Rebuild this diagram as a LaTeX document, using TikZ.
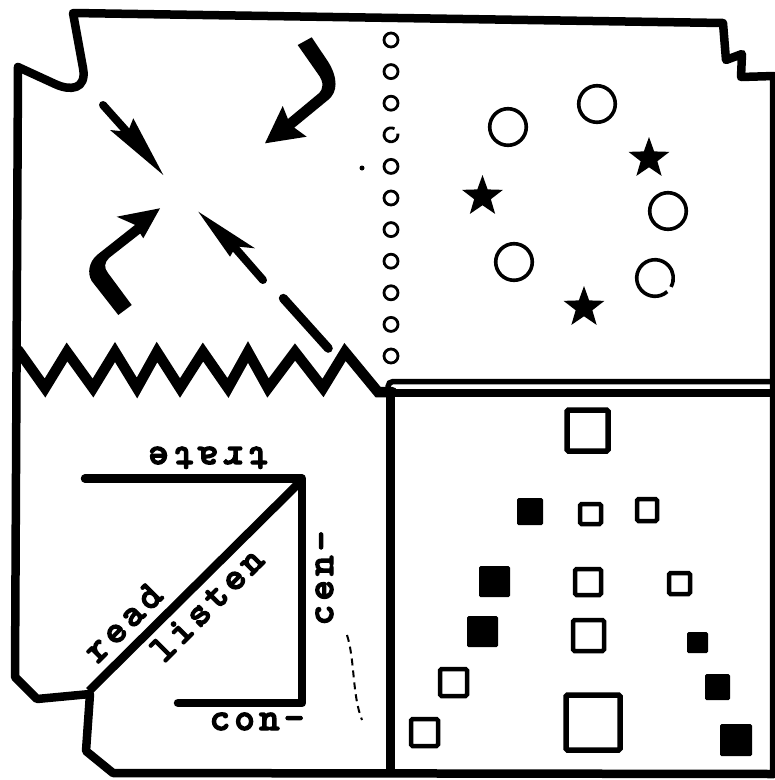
\documentclass[tikz,border=0pt]{standalone}
\usepackage{fontspec}
\usetikzlibrary{shapes.geometric}
\newfontfamily\twfont{lmmonolt10-bold.otf}[FakeBold=3.2,LetterSpace=11]
\begin{document}
\begin{tikzpicture}[x=1pt,y=-1pt,
  bord/.style={line width=8.5, line join=round, line cap=round},
  zig/.style={line width=10.5, line join=miter, line cap=round},
  ring/.style={line width=3.6},
  dotc/.style={line width=2.8},
  osq/.style={line width=4.5, rounded corners=1.5},
  bigsq/.style={line width=5.5, rounded corners=1.5},
  fsq/.style={fill=black, rounded corners=1.5},
  word/.style={font=\twfont\fontsize{39}{39}\selectfont, inner sep=0pt},
  starsh/.style={star, star points=5, star point ratio=2.45, fill=black, draw=none, inner sep=0pt, minimum size=43}]
\useasboundingbox (0,0) rectangle (775,780);
\fill[white] (0,0) rectangle (775,780);

% outer boundary
\draw[bord] (18,67) -- (55,84) .. controls (70,91) and (87,90) .. (83,68) -- (73,13)
  -- (723,23) -- (726,60) -- (742,54) -- (741,77) -- (774,76) -- (774,774)
  -- (113,773) -- (86,751) -- (90,694) -- (37,699) -- (15,677) -- cycle;

% zigzag
\draw[zig] (18,350) -- (45,388) -- (67,352) -- (93,388) -- (115,352) -- (137,388)
  -- (157,352) -- (180,388) -- (203,352) -- (228,388) -- (248,352) -- (268,388)
  -- (295,352) -- (323,388) -- (345,352) -- (378,392) -- (392,392);

% lower right frame
\draw[line width=9] (390.5,388) -- (390.5,776);
\draw[line width=8] (386,392.5) -- (776,392.5);
\draw[line width=5.5, rounded corners=5] (776,381.5) -- (388,381.5) -- (388,395);

% column of small circles
\foreach \i in {0,1,2,4,5,6,7,8,9,10}
  \draw[dotc] (391,40+31.6*\i) circle (7);
\draw[dotc] (391,134.8) ++(-10:7) arc[start angle=-10, end angle=300, radius=7];
\fill (362,168) circle (2.5);

% big circles and stars
\draw[ring] (508,127) circle (18.3);
\draw[ring] (597,104) circle (18.3);
\draw[ring] (668,211) circle (18.3);
\draw[ring] (514,262) circle (18.3);
\draw[ring] (655,278) ++(48:18.3) arc[start angle=48, end angle=389, radius=18.3];
\node[starsh] (s1) at (649,158.5) {};
\node[starsh] (s2) at (482.5,196.5) {};
\node[starsh] (s3) at (584,307.5) {};

% arrow A
\draw[line width=8, line cap=round] (103,105) -- (138.3,144.5);
\fill (163.3,175) -- (110,130) -- (127.9,131.8) -- (133.3,118.3) -- cycle;
% arrow B
\fill (297.7,45) -- (311.7,37.3) -- (328.3,62) .. controls (338,78) and (338,92) .. (328,100)
  -- (286,134.5) -- (279.6,125.9) -- (318,94) .. controls (324,89) and (324,82) .. (318,74) -- cycle;
\fill (265,143.3) -- (282.7,106) -- (290.2,124.7) -- (306.7,136.7) -- cycle;
% arrow C
\fill (118.3,315) -- (91.7,281) .. controls (87,273) and (89,262) .. (97,255) -- (140,221)
  -- (146,229) -- (109,258) .. controls (104,263) and (104,268) .. (108,273) -- (131.7,305) -- cycle;
\fill (160,208.3) -- (116.7,216.7) -- (134.5,224.6) -- (143.3,238.3) -- cycle;
% arrow D (broken)
\draw[line width=8, line cap=round] (224.8,236.2) -- (263,280);
\fill (198.3,211.7) -- (230,256.7) -- (235.9,246.4) -- (255,248.3) -- cycle;
\draw[line width=9, line cap=round] (283.3,298.3) -- (328.3,348.3);

% read / listen figure
\draw[bord] (85,478.5) -- (302,478.5) -- (302,703) -- (178,703);
\draw[line width=8.5, line cap=butt] (302,480) -- (89,691);
\node[word, rotate=180, anchor=base] (trate) at (208,447) {trate};
\node[word, anchor=base] (con) at (257,730) {con-};
\node[word, rotate=90, anchor=base] (cen) at (333,578) {cen-};
\node[word, rotate=45, anchor=base] (read) at (131,631) {read};
\node[word, rotate=45, anchor=base] (listen) at (215,613) {listen};
\draw[line width=2, dash pattern=on 7pt off 5pt] (347,635) .. controls (355,660) and (352,695) .. (362,720);

% squares
\draw[bigsq] (567,410) rectangle (608,451);
\fill[fsq] (517,498) rectangle (543,525);
\draw[osq] (580,504) rectangle (601,524);
\draw[osq] (637,499) rectangle (657,521);
\fill[fsq] (479,566) rectangle (510,597);
\draw[osq] (575,569) rectangle (601,595);
\draw[osq] (669,573) rectangle (690,594);
\fill[fsq] (467,616) rectangle (498,647);
\draw[osq] (573,620) rectangle (604,651);
\fill[fsq] (687,632) rectangle (708,653);
\draw[osq] (440,669) rectangle (467,696);
\draw[bigsq] (566,695) rectangle (620,750);
\fill[fsq] (705,674) rectangle (730,700);
\draw[osq] (411,719) rectangle (438,746);
\fill[fsq] (720,724) rectangle (752,756);
\end{tikzpicture}
\end{document}
